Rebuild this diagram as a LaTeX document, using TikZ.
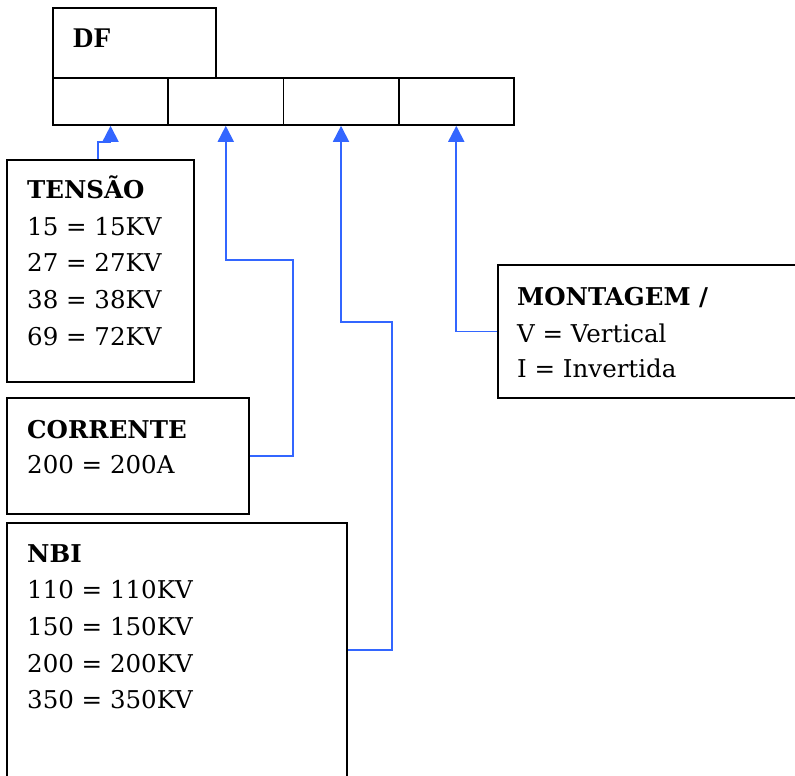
\documentclass[tikz,border=0pt]{standalone}
\usepackage{fontspec}
\setmainfont{DejaVu Serif}
\newfontfamily\dffont{Liberation Serif}
\usetikzlibrary{arrows.meta}
\definecolor{lineblue}{HTML}{3366FF}
\begin{document}
\begin{tikzpicture}[x=1pt,y=-1pt,
  box/.style={draw=black,line width=1.8pt,rectangle,inner sep=0pt,anchor=north west},
  txt/.style={anchor=base west,inner sep=0pt,font=\fontsize{24.5}{30}\selectfont},
  hd/.style={txt,font=\fontsize{24.5}{30}\selectfont\bfseries},
  conn/.style={draw=lineblue,line width=1.8pt,-{Triangle[width=16pt,length=16pt]}}]
\useasboundingbox (0,0) rectangle (795,776);
\begin{scope}
\clip (0,0) rectangle (795,776);
% top boxes
\node[box,minimum width=163pt,minimum height=70pt] (df) at (52,7) {};
\node[txt,font=\dffont\fontsize{28.5}{30}\selectfont\bfseries] (dft) at (73,48) {DF};
\foreach \i/\x in {1/52,2/167.25,3/282.5,4/397.75}
  \node[box,minimum width=115.25pt,minimum height=47pt] (c\i) at (\x,77) {};
% boxes
\node[box,minimum width=187pt,minimum height=222pt] (tens) at (6,159) {};
\node[box,minimum width=242pt,minimum height=116pt] (corr) at (6,397) {};
\node[box,minimum width=340pt,minimum height=268pt] (nbi) at (6,522) {};
\node[box,minimum width=303pt,minimum height=133pt] (mont) at (497,264) {};
% texts
\node[hd] (t0) at (27,198) {TENSÃO};
\node[txt] (t1) at (27,235) {15 = 15KV};
\node[txt] (t2) at (27,271) {27 = 27KV};
\node[txt] (t3) at (27,308) {38 = 38KV};
\node[txt] (t4) at (27,345) {69 = 72KV};
\node[hd] (k0) at (27,438) {CORRENTE};
\node[txt] (k1) at (27,473) {200 = 200A};
\node[hd] (n0) at (27,562) {NBI};
\node[txt] (n1) at (27,598) {110 = 110KV};
\node[txt] (n2) at (27,635) {150 = 150KV};
\node[txt] (n3) at (27,672) {200 = 200KV};
\node[txt] (n4) at (27,708) {350 = 350KV};
\node[hd] (m0) at (517,305) {MONTAGEM /};
\node[txt] (m1) at (517,342) {V = Vertical};
\node[txt] (m2) at (517,377) {I = Invertida};
% connectors
\coordinate (a1) at ([xshift=92pt]tens.north west);
\draw[conn] (a1) -- ++(0,-17) -| (c1.south);
\draw[conn] (corr.east) -| (293,260) -| (c2.south);
\coordinate (a3) at (nbi.east |- 0,650);
\draw[conn] (a3) -| (392,322) -| (c3.south);
\draw[conn] (mont.west) -| (c4.south);
\end{scope}
\end{tikzpicture}
\end{document}
